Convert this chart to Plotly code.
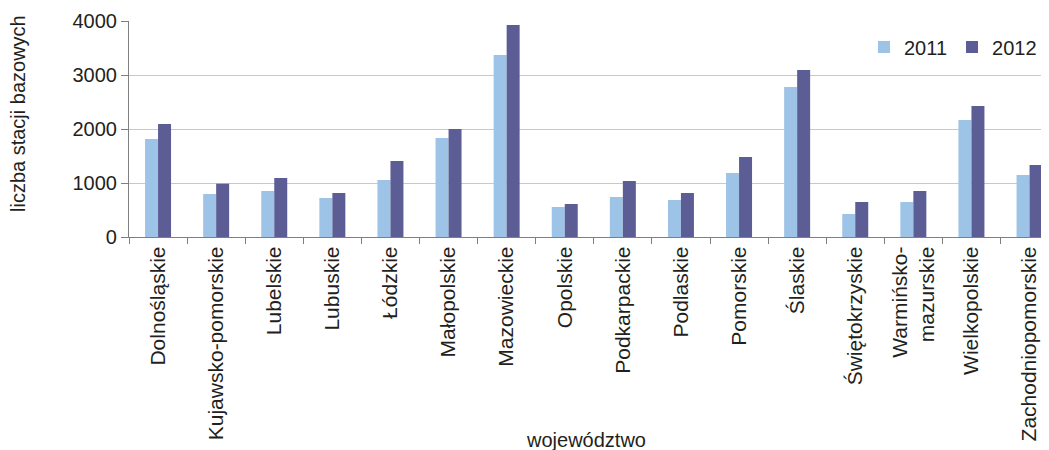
import plotly.graph_objects as go

categories = [
    "Dolnośląskie", "Kujawsko-pomorskie", "Lubelskie", "Lubuskie", "Łódzkie",
    "Małopolskie", "Mazowieckie", "Opolskie", "Podkarpackie", "Podlaskie",
    "Pomorskie", "Śląskie", "Świętokrzyskie", "Warmińsko-<br>mazurskie",
    "Wielkopolskie", "Zachodniopomorskie",
]
tick_labels = [
    "Dolnośląskie", "Kujawsko-pomorskie", "Lubelskie", "Lubuskie", "Łódzkie",
    "Małopolskie", "Mazowieckie", "Opolskie", "Podkarpackie", "Podlaskie",
    "Pomorskie", "Ślaskie", "Świętokrzyskie", "Warmińsko-<br>mazurskie",
    "Wielkopolskie", "Zachodniopomorskie",
]
values_2011 = [1815, 796, 852, 722, 1056, 1833, 3370, 556, 741, 685, 1185, 2778, 426, 648, 2167, 1148]
values_2012 = [2093, 987, 1093, 815, 1407, 2000, 3926, 611, 1037, 815, 1481, 3093, 648, 852, 2426, 1333]
y_ticks = [0, 1000, 2000, 3000, 4000]

FONT = "Liberation Sans, Arial, sans-serif"
TXT = "#231f20"

fig = go.Figure()
fig.add_trace(go.Bar(name="2011", x=categories, y=values_2011, marker_color="#9DC3E6",
                     marker_line_width=0))
fig.add_trace(go.Bar(name="2012", x=categories, y=values_2012, marker_color="#5D5D95",
                     marker_line_width=0))

# page body has an 8px margin; figure coordinates = screen - 8
OFF = 8
W, H = 1049 - OFF, 450 - OFF
L, R, T = 129 - OFF, 0, 21 - OFF
bottom = 237 - OFF
B = H - bottom
pw = W - L - R
ph = bottom - T
cat_w = 58.1
x_hi = -0.5 + pw / cat_w


def px_x(sx):
    return (sx - OFF - L) / pw


def px_y(sy):
    return (bottom - (sy - OFF)) / ph


fig.update_layout(
    width=W, height=H,
    margin=dict(l=L, r=R, t=T, b=B, pad=0),
    paper_bgcolor="white", plot_bgcolor="white",
    font=dict(family=FONT, size=20, color=TXT),
    barmode="group", bargap=0.553, bargroupgap=0,
    showlegend=True,
    legend=dict(orientation="h", x=px_x(864), xanchor="left", y=px_y(47), yanchor="middle",
                font=dict(size=20, color=TXT), bgcolor="rgba(0,0,0,0)",
                itemwidth=30, traceorder="normal"),
    xaxis=dict(
        type="category", range=[-0.5, x_hi],
        tickmode="array", tickvals=categories, ticktext=tick_labels,
        tickangle=-90, tickson="boundaries", ticks="outside", ticklen=6,
        tickcolor="#7f7f7f", showline=True, linecolor="#7f7f7f", linewidth=1.2,
        showgrid=False, tickfont=dict(size=21, color=TXT), automargin=False,
    ),
    yaxis=dict(
        range=[0, 4000], tickvals=y_ticks, ticks="outside", ticklen=7,
        tickcolor="#7f7f7f", showline=True, linecolor="#7f7f7f", linewidth=1.2,
        showgrid=True, gridcolor="#c8c8c8", gridwidth=1, zeroline=False,
        tickfont=dict(size=20, color=TXT), automargin=False,
    ),
    annotations=[
        dict(text="liczba stacji bazowych", textangle=-90, xref="paper", yref="paper",
             x=px_x(18), y=px_y(114), xanchor="center", yanchor="middle",
             showarrow=False, font=dict(size=20, color=TXT)),
        dict(text="województwo", xref="paper", yref="paper",
             x=px_x(586), y=px_y(440), xanchor="center", yanchor="middle",
             showarrow=False, font=dict(size=20, color=TXT)),
    ],
)

fig.write_html("out.html")
